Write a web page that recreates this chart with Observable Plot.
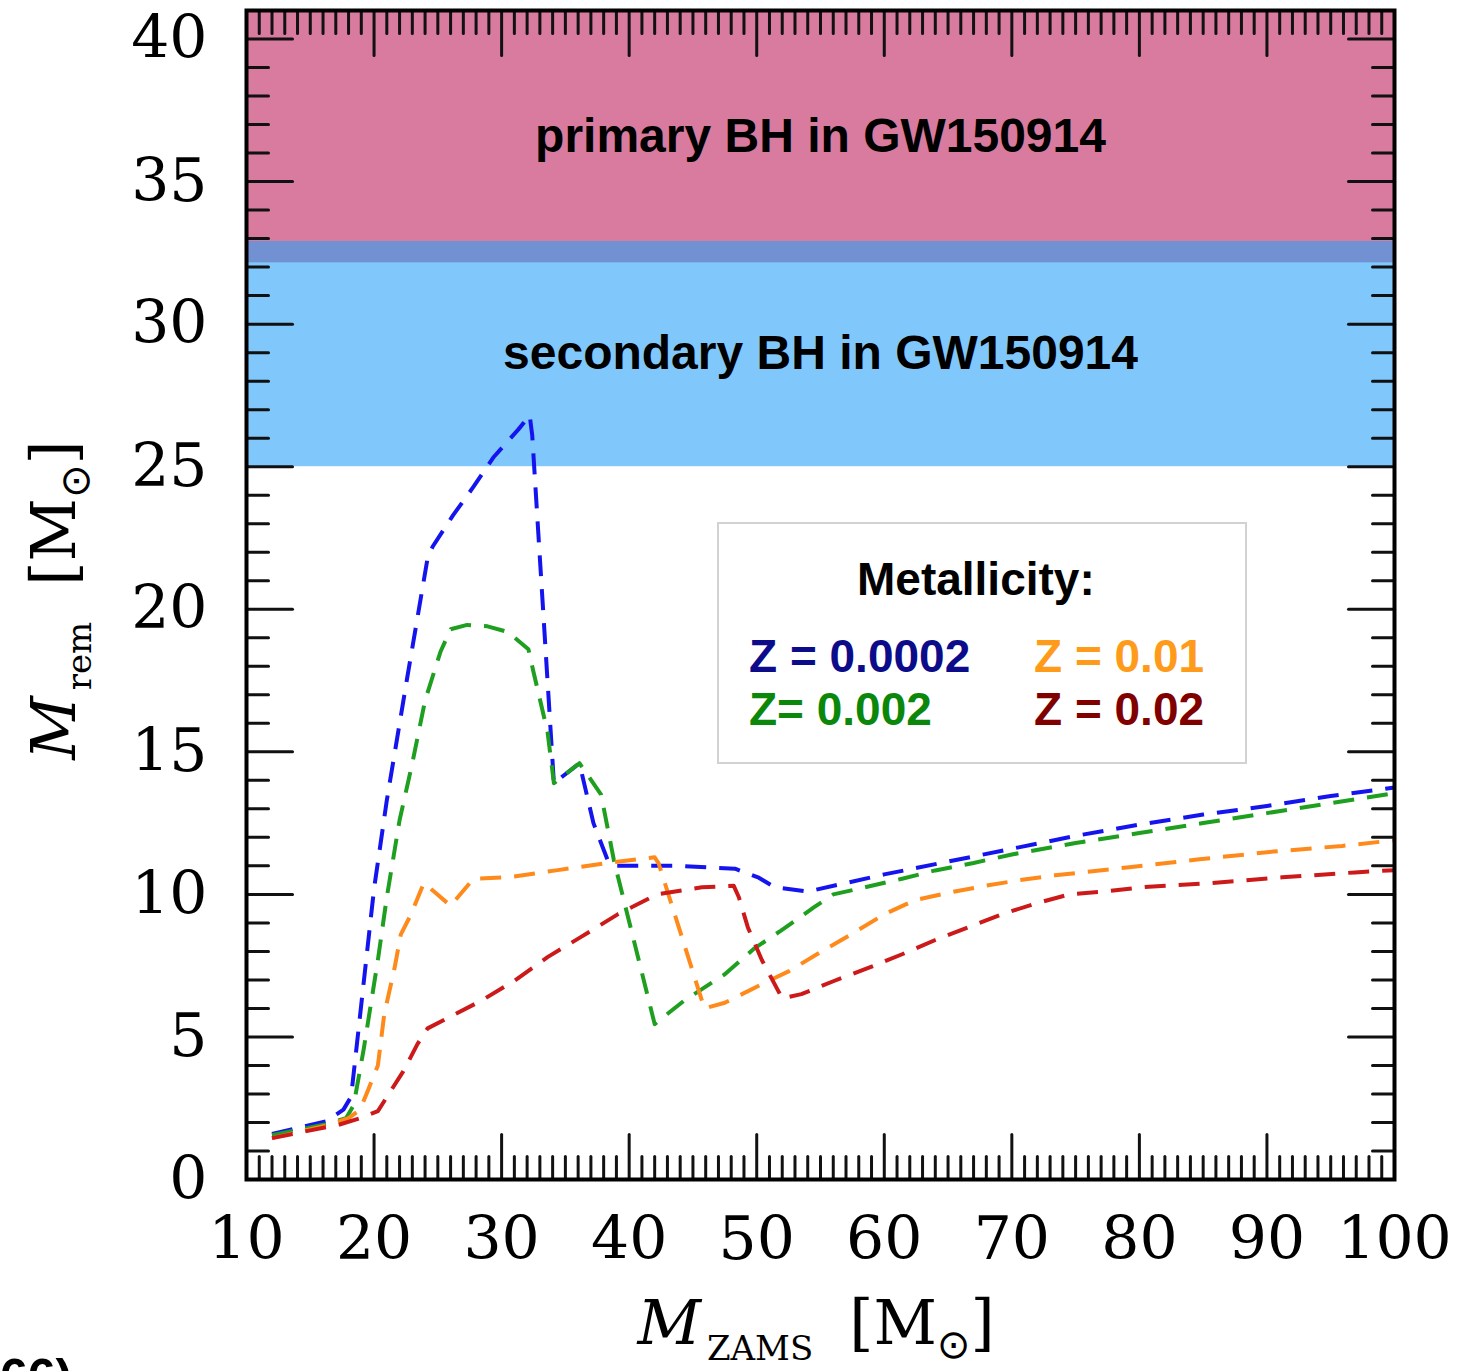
<!DOCTYPE html>
<html>
<head>
<meta charset="utf-8">
<script src="https://cdn.jsdelivr.net/npm/d3@7"></script>
<script src="https://cdn.jsdelivr.net/npm/@observablehq/plot@0.6"></script>
<style>
  html, body { margin: 0; padding: 0; background: #fff; overflow: hidden; }
  #wrap { position: relative; width: 1467px; height: 1371px; overflow: hidden; background: #fff; }
  #legend { position: absolute; left: 717px; top: 522px; width: 526px; height: 238px;
            border: 2px solid #d2d2d2; background: #fff;
            font-family: "Liberation Sans", Arial, sans-serif; font-weight: bold; font-size: 46px; }
  #legend div { position: absolute; line-height: 46px; white-space: nowrap; }
  #cut { position: absolute; left: 0; top: 1352px; font-family: "Liberation Sans", Arial, sans-serif;
         font-weight: bold; font-size: 50px; line-height: 50px; }
</style>
</head>
<body>
<div id="wrap"></div>
<script>
// ---------- axis / tick values ----------
const xDomain = [10, 100];
const yDomain = [0, 41];
const xLabelTicks = [10, 20, 30, 40, 50, 60, 70, 80, 90, 100];
const yLabelTicks = [0, 5, 10, 15, 20, 25, 30, 35, 40];
const xMajorTicks = [20, 30, 40, 50, 60, 70, 80, 90];
const xMinorTicks = d3.range(11, 100).filter(v => v % 10 !== 0);
const yMajorTicks = [5, 10, 15, 20, 25, 30, 35, 40];
const yMinorTicks = d3.range(1, 41).filter(v => v % 5 !== 0);

// ---------- GW150914 mass bands ----------
const bandNames  = ["primary BH in GW150914", "secondary BH in GW150914"];
const bandLow    = [32.15, 25.0];
const bandHigh   = [41.0, 32.9];
const bandColors = ["#d97b9e", "#80c8fc"];
const overlapColor = "#7191d2";

// ---------- remnant mass curves ----------
const zamsZ0002 = [12, 16.3, 17.6, 18.2, 20, 21, 22.6, 24.2, 24.6, 26.2, 27.8, 29.4, 31.3, 32.2, 32.4, 34.1, 36.1, 37.2, 38.4, 39, 44, 48.3, 50.1, 51.4, 54, 57, 60, 65, 70, 75, 80, 85, 90, 95, 100];
const remZ0002  = [1.6, 2.05, 2.45, 2.9, 10.2, 13.3, 17.6, 21.8, 22.2, 23.3, 24.3, 25.35, 26.3, 26.8, 26.1, 13.9, 14.6, 12.5, 11.1, 11.0, 11.0, 10.9, 10.6, 10.25, 10.1, 10.4, 10.7, 11.15, 11.6, 12.05, 12.45, 12.8, 13.1, 13.45, 13.75];

const zamsZ002 = [12, 16.3, 17.8, 18.4, 19.2, 20.3, 21, 22, 23, 24, 25.2, 26, 27.3, 28.9, 30.5, 32.1, 32.5, 33.6, 34.1, 36.1, 37.8, 38.8, 42, 44.3, 47.5, 49.8, 51.9, 54.5, 56, 58, 61.4, 64, 67, 70, 75, 80, 85, 90, 95, 100];
const remZ002  = [1.55, 1.95, 2.15, 2.6, 4.6, 7.7, 9.9, 12.6, 14.6, 16.8, 18.5, 19.3, 19.45, 19.4, 19.2, 18.6, 17.8, 15.7, 13.9, 14.6, 13.5, 11.2, 5.45, 6.27, 7.2, 8.1, 8.73, 9.55, 10.0, 10.2, 10.55, 10.84, 11.1, 11.4, 11.8, 12.15, 12.5, 12.85, 13.2, 13.55];

const zamsZ01 = [12, 16.3, 18, 18.9, 19.5, 20.3, 20.8, 21.6, 22.1, 22.9, 23.9, 24.7, 26, 27.8, 30.5, 34.4, 38.3, 42, 42.3, 45.9, 47.5, 50.4, 52.5, 55.1, 57.4, 60, 62.4, 65.3, 67.9, 70.6, 73.4, 79.2, 84.7, 90.5, 95.9, 100];
const remZ01  = [1.45, 1.9, 2.15, 2.45, 3.1, 4.0, 5.8, 7.4, 8.6, 9.3, 10.4, 10.1, 9.6, 10.55, 10.6, 10.85, 11.1, 11.3, 11.1, 6.0, 6.2, 6.85, 7.3, 8.0, 8.6, 9.3, 9.8, 10.08, 10.3, 10.5, 10.67, 10.95, 11.23, 11.5, 11.7, 11.9];

const zamsZ02 = [12, 17.3, 18.9, 20.3, 21.3, 22.3, 23.4, 24.2, 25.8, 28.4, 31, 33.6, 36.2, 39.1, 42.2, 45.7, 48.2, 48.6, 49.3, 50.4, 52, 53.5, 56.1, 58.8, 61.4, 64, 66.6, 69.2, 71.8, 74.5, 77.3, 80.2, 85.7, 91.2, 96.9, 100];
const remZ02  = [1.45, 1.93, 2.15, 2.4, 3.1, 3.8, 4.75, 5.3, 5.67, 6.27, 6.97, 7.8, 8.5, 9.3, 10.0, 10.25, 10.3, 9.9, 8.85, 7.7, 6.35, 6.5, 6.97, 7.43, 7.9, 8.4, 8.85, 9.3, 9.67, 10.0, 10.1, 10.25, 10.4, 10.6, 10.77, 10.85];

const seriesNames  = ["0.0002", "0.002", "0.01", "0.02"];
const seriesColors = ["#1414ee", "#1f9f1f", "#ff8a1c", "#cc1a1a"];
const legendLabels = ["Z = 0.0002", "Z= 0.002", "Z = 0.01", "Z = 0.02"];
const legendColors = ["#0c0c8a", "#0b870b", "#ff9b1a", "#800000"];

// ---------- build tables ----------
const seriesX = [zamsZ0002, zamsZ002, zamsZ01, zamsZ02];
const seriesY = [remZ0002, remZ002, remZ01, remZ02];
const curves = seriesNames.flatMap((z, k) => seriesX[k].map((m, i) => ({z, mzams: m, mrem: seriesY[k][i]})));
const bands = bandNames.map((name, i) => ({name, lo: bandLow[i], hi: bandHigh[i], color: bandColors[i]}));
const overlap = [{lo: d3.max(bandLow), hi: d3.min(bandHigh)}];

const tickIn = {draw(ctx, l) { ctx.moveTo(0, 0); ctx.lineTo(0, -l); }};
const tickStyle = {stroke: "#111", strokeWidth: 3, anchor: "start", shape: tickIn};

const plot = Plot.plot({
  width: 1467,
  height: 1371,
  marginLeft: 246,
  marginRight: 73,
  marginTop: 10,
  marginBottom: 192,
  x: {domain: xDomain, label: null},
  y: {domain: yDomain, label: null},
  color: {domain: seriesNames, range: seriesColors},
  style: {fontFamily: "DejaVu Serif", fontSize: "60px", color: "black", background: "white", overflow: "hidden"},
  marks: [
    Plot.rect(bands, {y1: "lo", y2: "hi", fill: d => d.color}),
    Plot.rect(overlap, {y1: "lo", y2: "hi", fill: overlapColor}),
    Plot.line(curves, {x: "mzams", y: "mrem", z: "z", stroke: "z", strokeWidth: 4, strokeDasharray: "21,13", strokeLinecap: "butt"}),
    Plot.text(bands, {y: d => (d.lo + d.hi) / 2, text: "name", frameAnchor: "middle",
      fontFamily: "Liberation Sans", fontWeight: "bold", fontSize: 48, fill: "black"}),
    // ticks drawn inward on all four sides
    Plot.vector(xMinorTicks, {x: d => d, frameAnchor: "bottom", length: 23, rotate: 0, ...tickStyle}),
    Plot.vector(xMajorTicks, {x: d => d, frameAnchor: "bottom", length: 45, rotate: 0, ...tickStyle}),
    Plot.vector(xMinorTicks, {x: d => d, frameAnchor: "top", length: 23, rotate: 180, ...tickStyle}),
    Plot.vector(xMajorTicks, {x: d => d, frameAnchor: "top", length: 45, rotate: 180, ...tickStyle}),
    Plot.vector(yMinorTicks, {y: d => d, frameAnchor: "left", length: 22, rotate: 90, ...tickStyle}),
    Plot.vector(yMajorTicks, {y: d => d, frameAnchor: "left", length: 46, rotate: 90, ...tickStyle}),
    Plot.vector(yMinorTicks, {y: d => d, frameAnchor: "right", length: 22, rotate: -90, ...tickStyle}),
    Plot.vector(yMajorTicks, {y: d => d, frameAnchor: "right", length: 46, rotate: -90, ...tickStyle}),
    Plot.frame({stroke: "black", strokeWidth: 4}),
    Plot.axisX({ticks: xLabelTicks, tickSize: 0, tickPadding: 37, label: null, tickFormat: d => String(d)}),
    Plot.axisY({ticks: yLabelTicks, tickSize: 0, tickPadding: 39, label: null, tickFormat: d => String(d)})
  ]
});

// ---------- axis titles (rich text with subscripts) ----------
const svg = d3.select(plot);
function title(g, sub) {
  g.append("tspan").attr("font-style", "italic").text("M");
  g.append("tspan").attr("font-size", 34).attr("dy", 16).attr("dx", 6).text(sub);
  g.append("tspan").attr("dy", -16).attr("dx", 36).text("[M");
  g.append("tspan").attr("font-size", 40).attr("dy", 14).attr("font-family", "DejaVu Sans").text("\u2299");
  g.append("tspan").attr("dy", -14).text("]");
}
svg.append("text")
  .attr("font-family", "DejaVu Serif").attr("font-size", 62).attr("fill", "black")
  .attr("text-anchor", "middle")
  .attr("transform", "translate(816,1344)")
  .call(g => title(g, "ZAMS"));
svg.append("text")
  .attr("font-family", "DejaVu Serif").attr("font-size", 62).attr("fill", "black")
  .attr("text-anchor", "middle")
  .attr("transform", "translate(75,600) rotate(-90)")
  .call(g => title(g, "rem"));

const wrap = document.getElementById("wrap");
wrap.appendChild(plot);

// ---------- legend ----------
const legend = document.createElement("div");
legend.id = "legend";
const head = document.createElement("div");
head.textContent = "Metallicity:";
head.style.left = "138px"; head.style.top = "32px"; head.style.color = "#000";
legend.appendChild(head);
const legendPos = [[30, 109], [30, 162], [315, 109], [315, 162]];
legendLabels.forEach((lab, i) => {
  const d = document.createElement("div");
  d.textContent = lab;
  d.style.left = legendPos[i][0] + "px";
  d.style.top = legendPos[i][1] + "px";
  d.style.color = legendColors[i];
  legend.appendChild(d);
});
wrap.appendChild(legend);

const cut = document.createElement("div");
cut.id = "cut";
cut.textContent = "66)";
wrap.appendChild(cut);
</script>
</body>
</html>
